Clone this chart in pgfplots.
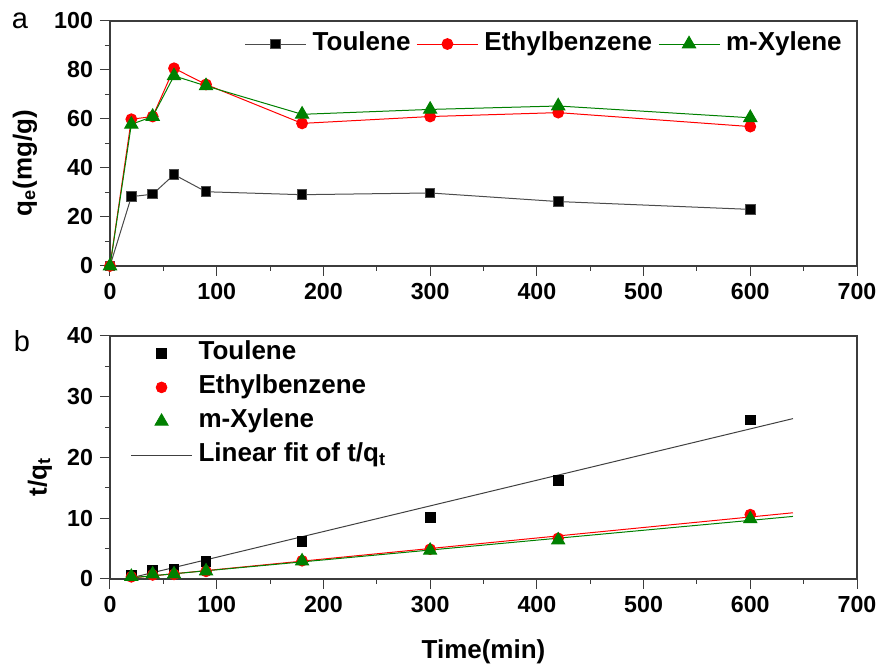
\documentclass[border=0pt]{standalone}
\usepackage{fontspec}
\setmainfont{Liberation Sans}
\usepackage{pgfplots}
\pgfplotsset{compat=1.18}
\definecolor{myred}{RGB}{255,0,0}
\definecolor{mygreen}{RGB}{0,128,0}
\definecolor{axgray}{RGB}{60,60,60}
\newcommand\tlab{\fontsize{11.6}{13}\selectfont\bfseries}
\newcommand\lab{\fontsize{13}{15}\selectfont\bfseries}
\pgfplotsset{
 common/.style={
  scale only axis, width=373.5pt,
  xmin=0, xmax=700, xtick={0,100,...,700}, minor x tick num=1, minor y tick num=1,
  tick pos=left, tick align=outside,
  major tick length=5pt, minor tick length=2.5pt,
  tick style={axgray, line width=0.5pt},
  axis line style={axgray, line width=0.6pt},
  tick label style={font=\tlab},
  /pgf/number format/assume math mode=true,
  label style={font=\lab},
  legend style={draw=none, fill=none, font=\lab, inner sep=0pt,
    nodes={inner xsep=3pt, inner ysep=2.25pt, text height=9.5pt, text depth=3pt}},
  legend cell align=left,
  legend image code/.code={\draw[mark repeat=2,mark phase=2,#1] plot coordinates {(0pt,0pt) (15.25pt,0pt) (30.5pt,0pt)};},
 },
 tol/.style={black, mark=square*, mark size=2.4pt, mark options={solid, fill=black}},
 eth/.style={myred, mark=*, mark size=2.7pt, mark options={solid, fill=myred}},
 xyl/.style={mygreen, mark=triangle*, mark size=3.8pt, mark options={solid, fill=mygreen}},
}
\begin{document}
\begin{tikzpicture}
\useasboundingbox (0,0) rectangle (439.5pt,333.5pt);
\node[font=\fontsize{14.5}{16}\selectfont] at (10pt,323pt) {a};
\node[font=\fontsize{14.5}{16}\selectfont] at (11pt,163pt) {b};
\begin{axis}[common, at={(55pt,200.5pt)}, anchor=south west, height=122.5pt,
  ymin=0, ymax=100, ytick={0,20,...,100},
  ylabel={q\textsubscript{e}(mg/g)},
  ylabel style={at={(axis description cs:-0.114,0.42)}, anchor=center},
  legend columns=3,
  legend style={at={(0.988,0.906)}, anchor=east}]
\addplot[tol, draw=black!70, line width=0.5pt] coordinates {(0,0) (20,28.3) (40,29.3) (60,37.3) (90,30.3) (180,29.1) (300,29.8) (420,26.3) (600,23.1)};
\addlegendentry{Toulene}
\addplot[eth, line width=0.5pt] coordinates {(0,0) (20,59.9) (40,61) (60,80.7) (90,74.1) (180,58.2) (300,61) (420,62.6) (600,56.9)};
\addlegendentry{Ethylbenzene}
\addplot[xyl, line width=0.5pt] coordinates {(0,0) (20,57.8) (40,61) (60,77.6) (90,73.5) (180,61.9) (300,63.9) (420,65.3) (600,60.5)};
\addlegendentry{m-Xylene}
\end{axis}
\begin{axis}[common, at={(55pt,44pt)}, anchor=south west, height=121.5pt,
  ymin=0, ymax=40, ytick={0,10,...,40},
  xlabel={Time(min)}, ylabel={t/q\textsubscript{t}},
  xlabel style={at={(axis description cs:0.5,-0.30)}, anchor=center},
  ylabel style={at={(axis description cs:-0.094,0.42)}, anchor=center},
  legend style={at={(0.027,1.0)}, anchor=north west}]
\addplot[black!75, line width=0.5pt, forget plot] coordinates {(20,0.2) (640,26.4)};
\addplot[myred, line width=0.5pt, forget plot] coordinates {(20,0.17) (640,10.9)};
\addplot[mygreen, line width=0.5pt, forget plot] coordinates {(20,0.21) (640,10.3)};
\addplot[tol, only marks] coordinates {(20,0.7) (40,1.4) (60,1.6) (90,2.9) (180,6.2) (300,10.1) (420,16.2) (600,26.2)};
\addlegendentry{Toulene}
\addplot[eth, only marks] coordinates {(20,0.35) (40,0.66) (60,0.75) (90,1.25) (180,3.0) (300,4.9) (420,6.7) (600,10.6)};
\addlegendentry{Ethylbenzene}
\addplot[xyl, only marks] coordinates {(20,0.4) (40,0.8) (60,0.8) (90,1.3) (180,2.95) (300,4.7) (420,6.4) (600,9.9)};
\addlegendentry{m-Xylene}
\addlegendimage{black!75, line width=0.5pt}
\addlegendentry{Linear fit of t/q\textsubscript{t}}
\end{axis}
\end{tikzpicture}
\end{document}
